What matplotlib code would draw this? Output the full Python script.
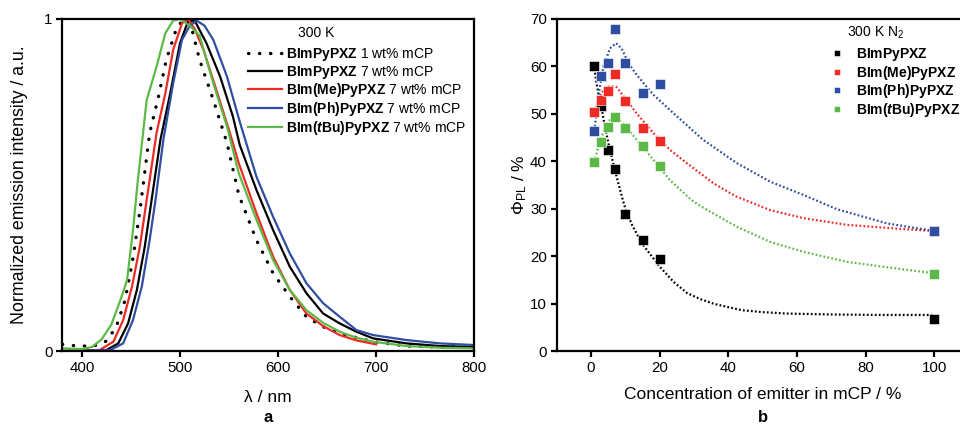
#!/usr/bin/env python3
# PL spectra (a) and PLQY vs. emitter concentration (b)

import matplotlib
matplotlib.use("Agg")
import matplotlib.pyplot as plt

plt.rcParams['font.family'] = ['Liberation Sans', 'DejaVu Sans']
plt.rcParams['mathtext.fontset'] = 'custom'
plt.rcParams['mathtext.rm'] = 'Liberation Sans'
plt.rcParams['mathtext.it'] = 'Liberation Sans:italic'
plt.rcParams['mathtext.bf'] = 'Liberation Sans:bold'
plt.rcParams['mathtext.bfit'] = 'Liberation Sans:italic:bold'

# ---------- DATA ----------
# panel a: normalized emission spectra
wl_1wt = [380, 396, 412, 425, 435, 444, 452, 459, 469, 478, 486, 497, 505, 512, 520,
          534, 548, 560, 578, 595, 612, 629, 646, 663, 697, 731, 765, 800]
int_1wt = [0.02, 0.015, 0.015, 0.03, 0.073, 0.154, 0.279, 0.42, 0.656, 0.766, 0.877, 0.977,
           1.0, 0.97, 0.877, 0.756, 0.626, 0.47, 0.334, 0.234, 0.164, 0.103, 0.073, 0.053,
           0.028, 0.015, 0.012, 0.012]

wl_7wt = [380, 425, 437, 447, 456, 464, 471, 480, 490, 500, 508, 515, 527, 541, 554, 561,
          578, 595, 612, 629, 646, 663, 680, 697, 731, 765, 800]
int_7wt = [0.0, 0.003, 0.023, 0.083, 0.184, 0.314, 0.455, 0.636, 0.776, 0.927, 0.992, 0.995,
           0.927, 0.826, 0.706, 0.62, 0.485, 0.364, 0.254, 0.174, 0.113, 0.083, 0.058, 0.038,
           0.023, 0.015, 0.012]

wl_me = [380, 418, 432, 442, 451, 459, 466, 476, 485, 493, 502, 508, 515, 524, 537, 551,
         560, 578, 595, 612, 629, 646, 663, 680, 700]
int_me = [0.0, 0.003, 0.028, 0.093, 0.194, 0.314, 0.455, 0.656, 0.776, 0.907, 0.987, 1.0,
          0.97, 0.907, 0.787, 0.656, 0.565, 0.415, 0.284, 0.184, 0.113, 0.075, 0.048, 0.032, 0.02]

wl_ph = [380, 429, 442, 452, 461, 469, 475, 483, 493, 502, 510, 517, 525, 534, 548, 561,
         578, 595, 612, 629, 646, 663, 680, 697, 731, 765, 800]
int_ph = [0.0, 0.003, 0.023, 0.093, 0.194, 0.334, 0.455, 0.636, 0.806, 0.937, 0.98, 0.995,
          0.98, 0.937, 0.826, 0.69, 0.525, 0.404, 0.294, 0.204, 0.144, 0.103, 0.063, 0.048,
          0.033, 0.023, 0.018]

wl_tbu = [380, 400, 410, 420, 430, 440, 446, 452, 457, 466, 476, 485, 493, 500, 510, 520,
          534, 548, 560, 578, 595, 612, 629, 646, 663, 680, 697, 731, 765, 800]
int_tbu = [0.008, 0.006, 0.012, 0.035, 0.08, 0.16, 0.214, 0.364, 0.515, 0.756, 0.856, 0.957,
           0.995, 1.0, 0.98, 0.95, 0.806, 0.676, 0.535, 0.395, 0.274, 0.184, 0.123, 0.085,
           0.058, 0.04, 0.028, 0.015, 0.01, 0.008]

# panel b: PLQY measurements
conc = [1, 3, 5, 7, 10, 15, 20, 100]
plqy_h = [60, 51.7, 42.4, 38.4, 28.9, 23.3, 19.3, 6.8]
plqy_me = [50.3, 52.9, 54.9, 58.3, 52.7, 47.1, 44.3, 25.3]
plqy_ph = [46.3, 58.0, 60.8, 67.9, 60.8, 54.5, 56.3, 25.2]
plqy_tbu = [39.8, 44.1, 47.2, 49.3, 47.1, 43.2, 39.0, 16.2]

# panel b: dotted fit curves (sampled from the figure)
fit_x_h = [1, 1.6, 2.2, 3, 4, 5, 7, 9, 10, 12, 15, 20, 24, 28, 32, 36, 44, 50, 57, 70, 85, 100]
fit_y_h = [59.5, 56.5, 54, 51.5, 47.5, 44, 38, 32.5, 30, 26.5, 22.5, 17.8, 14.6, 12.2, 10.9,
           9.9, 8.6, 8.2, 7.9, 7.7, 7.6, 7.6]
fit_x_me = [1, 2.1, 3.6, 5.5, 7.5, 9.9, 13.3, 18.2, 23, 27.9, 35.6, 42.2, 52.2, 62, 74.5, 91, 100]
fit_y_me = [49.8, 52.9, 55, 55.9, 55.6, 53.3, 50.1, 45.9, 42.4, 39.6, 35.4, 32.6, 29.7, 28,
            26.6, 25.7, 25.3]
fit_x_ph = [1, 2.1, 3.6, 5.5, 7.3, 8.9, 10.9, 13.3, 18.2, 23, 32.7, 42.5, 52.2, 61.9, 71.6,
            86.2, 100]
fit_y_ph = [46.5, 53.6, 59.9, 63.8, 64.9, 63.8, 60.7, 58.2, 54, 50.8, 44.5, 39.6, 35.7, 32.9,
            29.9, 26.9, 25.3]
fit_x_tbu = [1, 2.1, 3.6, 5.5, 7.5, 9.9, 13.3, 18.2, 23, 29.3, 32.7, 42.5, 52.2, 62, 74.5, 91, 100]
fit_y_tbu = [39.8, 43.1, 46.2, 48.7, 49.1, 47.6, 44.5, 40.3, 36, 31.8, 30.2, 26.2, 23, 20.9,
             18.8, 17.2, 16.4]

BLACK = '#000000'
RED = '#ee2a24'
BLUE = '#2f4ea1'
GREEN = '#5cb947'

# ---------- FIGURE ----------
fig = plt.figure(figsize=(9.6, 4.25), dpi=100)
ax1 = fig.add_axes([0.065, 0.1741, 0.4288, 0.7812])
ax2 = fig.add_axes([0.5799, 0.1741, 0.4291, 0.7812])

for ax in (ax1, ax2):
    for s in ax.spines.values():
        s.set_linewidth(1.6)
    ax.tick_params(direction='out', length=4, width=1.6, labelsize=10.8, pad=3)

# ---------- PANEL a ----------
ax1.plot(wl_1wt, int_1wt, color=BLACK, lw=2.4, linestyle=(0, (0.1, 3.2)),
         dash_capstyle='round', label=r'$\mathbf{BImPyPXZ}$ 1 wt% mCP')
ax1.plot(wl_7wt, int_7wt, color=BLACK, lw=1.6, label=r'$\mathbf{BImPyPXZ}$ 7 wt% mCP')
ax1.plot(wl_me, int_me, color=RED, lw=1.6, label=r'$\mathbf{BIm(Me)PyPXZ}$ 7 wt% mCP')
ax1.plot(wl_ph, int_ph, color=BLUE, lw=1.6, label=r'$\mathbf{BIm(Ph)PyPXZ}$ 7 wt% mCP')
ax1.plot(wl_tbu, int_tbu, color=GREEN, lw=1.6,
         label=r'$\mathbf{BIm(}\mathbfit{t}\mathbf{Bu)PyPXZ}$ 7 wt% mCP')

ax1.set_xlim(380, 800)
ax1.set_ylim(0, 1)
ax1.set_xticks([400, 500, 600, 700, 800])
ax1.set_yticks([0, 1])
ax1.set_xlabel('λ / nm', fontsize=12.5, labelpad=11)
ax1.set_ylabel('Normalized emission intensity / a.u.', fontsize=12.8, labelpad=12)

ax1.text(0.617, 0.958, '300 K', transform=ax1.transAxes, ha='center', va='center',
         fontsize=10)
ax1.legend(loc='upper left', bbox_to_anchor=(0.452, 0.919), frameon=False, fontsize=10,
           handlelength=2.4, handletextpad=0.3, labelspacing=0.05, borderpad=0,
           borderaxespad=0)

# ---------- PANEL b ----------
ax2.plot(fit_x_h, fit_y_h, color=BLACK, lw=1.6, linestyle=(0, (0.8, 1.0)))
ax2.plot(fit_x_me, fit_y_me, color=RED, lw=1.6, linestyle=(0, (0.8, 1.0)))
ax2.plot(fit_x_ph, fit_y_ph, color=BLUE, lw=1.6, linestyle=(0, (0.8, 1.0)))
ax2.plot(fit_x_tbu, fit_y_tbu, color=GREEN, lw=1.6, linestyle=(0, (0.8, 1.0)))

mk = dict(marker='s', linestyle='none', markersize=6.5, markeredgecolor='white',
          markeredgewidth=0.4)
ax2.plot(conc, plqy_h, color=BLACK, label=r'$\mathbf{BImPyPXZ}$', **mk)
ax2.plot(conc, plqy_me, color=RED, label=r'$\mathbf{BIm(Me)PyPXZ}$', **mk)
ax2.plot(conc, plqy_ph, color=BLUE, label=r'$\mathbf{BIm(Ph)PyPXZ}$', **mk)
ax2.plot(conc, plqy_tbu, color=GREEN, label=r'$\mathbf{BIm(}\mathbfit{t}\mathbf{Bu)PyPXZ}$', **mk)

ax2.set_xlim(-10, 110)
ax2.set_ylim(0, 70)
ax2.set_xticks([0, 20, 40, 60, 80, 100])
ax2.set_yticks(range(0, 71, 10))
ax2.set_xlabel('Concentration of emitter in mCP / %', fontsize=12.5, labelpad=9)
ax2.set_ylabel(r'$\Phi_{\rm PL}$ / %', fontsize=12.5, labelpad=1)

ax2.text(0.705, 0.958, r'300 K N$_2$', transform=ax2.transAxes, ha='left', va='center',
         fontsize=10)
ax2.legend(loc='upper left', bbox_to_anchor=(0.67, 0.919), frameon=False, fontsize=10,
           handlelength=0.6, handletextpad=1.1, labelspacing=0.05, borderpad=0,
           borderaxespad=0, markerscale=0.7)

fig.text(0.279, 0.008, 'a', ha='center', va='baseline', fontsize=12, fontweight='bold')
fig.text(0.795, 0.008, 'b', ha='center', va='baseline', fontsize=12, fontweight='bold')

fig.savefig('out.png', dpi=100)
